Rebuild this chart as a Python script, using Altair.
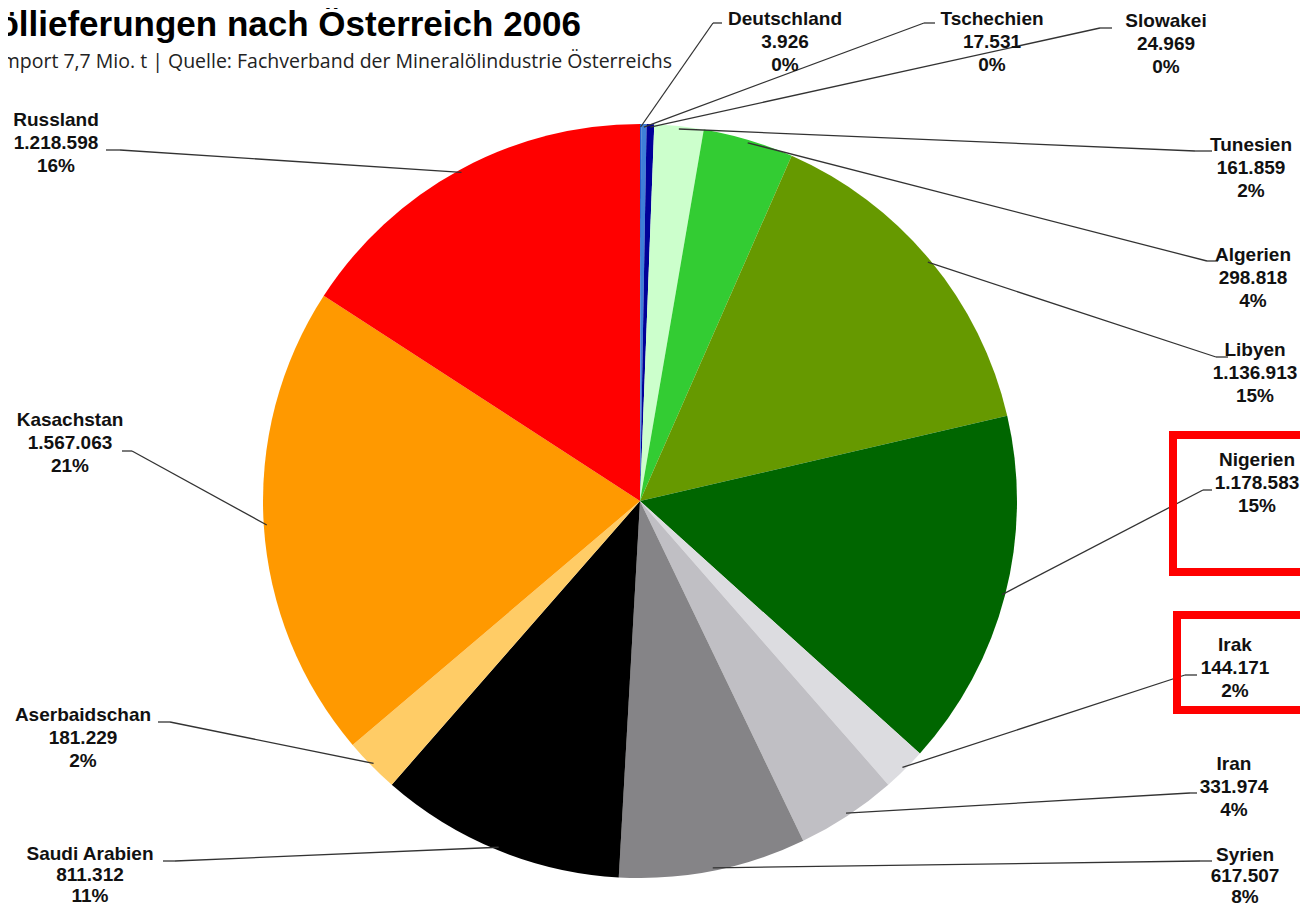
import altair as alt
import pandas as pd

# ---------------- data ----------------
countries = ["Deutschland", "Tschechien", "Slowakei", "Tunesien", "Algerien", "Libyen",
             "Nigerien", "Irak", "Iran", "Syrien", "Saudi Arabien", "Aserbaidschan",
             "Kasachstan", "Russland"]
tonnes = [3926, 17531, 24969, 161859, 298818, 1136913, 1178583, 144171, 331974,
          617507, 811312, 181229, 1567063, 1218598]
pct_labels = ["0%", "0%", "0%", "2%", "4%", "15%", "15%", "2%", "4%", "8%", "11%",
              "2%", "21%", "16%"]
colors = ["#2a5cc8", "#3f7fd8", "#000099", "#ccffcc", "#33cc33", "#669900", "#006600",
          "#dcdce0", "#c0bfc4", "#858487", "#000000", "#ffcc66", "#ff9900", "#ff0000"]

title_text = "Rohöllieferungen nach Österreich 2006"
subtitle_text = "Import 7,7 Mio. t  |  Quelle: Fachverband der Mineralölindustrie Österreichs"
highlighted = ["Nigerien", "Irak"]

# ---------------- layout (page pixel positions) ----------------
W, H = 1292, 900
CX, CY, R = 640, 501, 377          # pie centre / radius
RL = 374                           # radius where leader lines start
label_pos = {  # centre x, first line y, line spacing, tick label-side x, tick pie-side x, tick y
    "Deutschland":   (785, 19, 23, 722, 713, 23),
    "Tschechien":    (992, 19, 23, 935, 924, 23),
    "Slowakei":      (1166, 21, 23, 1112, 1100, 28),
    "Tunesien":      (1251, 145, 23, 1212, 1195, 151),
    "Algerien":      (1253, 255, 23, 1218, 1207, 261),
    "Libyen":        (1255, 350, 23, 1228, 1216, 357),
    "Nigerien":      (1257, 460, 23, 1212, 1203, 490),
    "Irak":          (1235, 645, 23, 1197, 1185, 675),
    "Iran":          (1234, 764, 23, 1197, 1190, 793),
    "Syrien":        (1245, 855, 21, 1212, 1200, 861),
    "Saudi Arabien": (90, 854, 21, 163, 175, 861),
    "Aserbaidschan": (83, 715, 23, 158, 170, 722),
    "Kasachstan":    (70, 420, 23, 122, 132, 451),
    "Russland":      (56, 120, 23, 106, 120, 150),
}
box_pos = {"Nigerien": (1173, 435, 572), "Irak": (1177, 615, 710)}

FONT = "Liberation Sans"

# ---------------- tables ----------------
df = pd.DataFrame({
    "country": countries,
    "value": tonnes,
    "idx": list(range(len(countries))),
    "t1x": [label_pos[c][3] for c in countries],
    "t2x": [label_pos[c][4] for c in countries],
    "ty": [label_pos[c][5] for c in countries],
})

rows = []
for c, v, p in zip(countries, tonnes, pct_labels):
    lx, ly, sp = label_pos[c][0], label_pos[c][1], label_pos[c][2]
    for i, t in enumerate([c, f"{v:,}".replace(",", "."), p]):
        rows.append({"x": lx, "y": ly + i * sp, "text": t})
labels = pd.DataFrame(rows)

boxes = pd.DataFrame([{"x": box_pos[c][0], "x2": W + 40, "y": box_pos[c][1], "y2": box_pos[c][2]}
                      for c in highlighted])

X = alt.Scale(domain=[8, 8 + W], nice=False, zero=False)
Y = alt.Scale(domain=[8, 8 + H], reverse=True, nice=False, zero=False)

# ---------------- layers ----------------
pie = alt.Chart(df).mark_arc(radius=R).encode(
    theta=alt.Theta("value:Q", stack=True),
    order=alt.Order("idx:Q"),
    color=alt.Color("country:N", scale=alt.Scale(domain=countries, range=colors), legend=None),
    x=alt.value(CX - 8),
    y=alt.value(CY - 8),
)

lead_base = alt.Chart(df).transform_joinaggregate(
    total="sum(value)"
).transform_window(
    cum="sum(value)", sort=[alt.SortField("idx")], frame=[None, 0]
).transform_calculate(
    mid="(datum.cum - datum.value / 2) / datum.total * 2 * PI",
    px=f"{CX} + {RL} * sin(datum.mid)",
    py=f"{CY} - {RL} * cos(datum.mid)",
)

seg1 = lead_base.mark_rule(color="#333333", strokeWidth=1.3).encode(
    x=alt.X("px:Q", scale=X, axis=None),
    y=alt.Y("py:Q", scale=Y, axis=None),
    x2="t2x:Q",
    y2="ty:Q",
)
seg2 = alt.Chart(df).mark_rule(color="#333333", strokeWidth=1.3).encode(
    x=alt.X("t1x:Q", scale=X, axis=None),
    x2="t2x:Q",
    y=alt.Y("ty:Q", scale=Y, axis=None),
)

text = alt.Chart(labels).mark_text(
    font=FONT, fontSize=19, fontWeight="bold", color="#111111",
    align="center", baseline="middle"
).encode(
    x=alt.X("x:Q", scale=X, axis=None),
    y=alt.Y("y:Q", scale=Y, axis=None),
    text="text:N",
)

box = alt.Chart(boxes).mark_rect(filled=False, stroke="#ff0000", strokeWidth=8).encode(
    x=alt.X("x:Q", scale=X, axis=None),
    x2="x2:Q",
    y=alt.Y("y:Q", scale=Y, axis=None),
    y2="y2:Q",
)

titles = pd.DataFrame({"text": [title_text], "x": [581], "y": [36]})
subs = pd.DataFrame({"text": [subtitle_text], "x": [672], "y": [68]})

title = alt.Chart(titles).mark_text(
    font=FONT, fontSize=35, fontWeight="bold", color="#000000",
    align="right", baseline="alphabetic"
).encode(
    x=alt.X("x:Q", scale=X, axis=None),
    y=alt.Y("y:Q", scale=Y, axis=None),
    text="text:N",
)
subtitle = alt.Chart(subs).mark_text(
    font="Open Sans", fontSize=19.5, color="#222222",
    align="right", baseline="alphabetic"
).encode(
    x=alt.X("x:Q", scale=X, axis=None),
    y=alt.Y("y:Q", scale=Y, axis=None),
    text="text:N",
)

chart = alt.layer(pie, seg1, seg2, text, box, title, subtitle).properties(
    width=W, height=H, padding=0,
    autosize=alt.AutoSizeParams(type="none"),
    background="white",
).configure_view(stroke=None)

chart.save("out.html", embed_options={"renderer": "svg", "actions": False})
